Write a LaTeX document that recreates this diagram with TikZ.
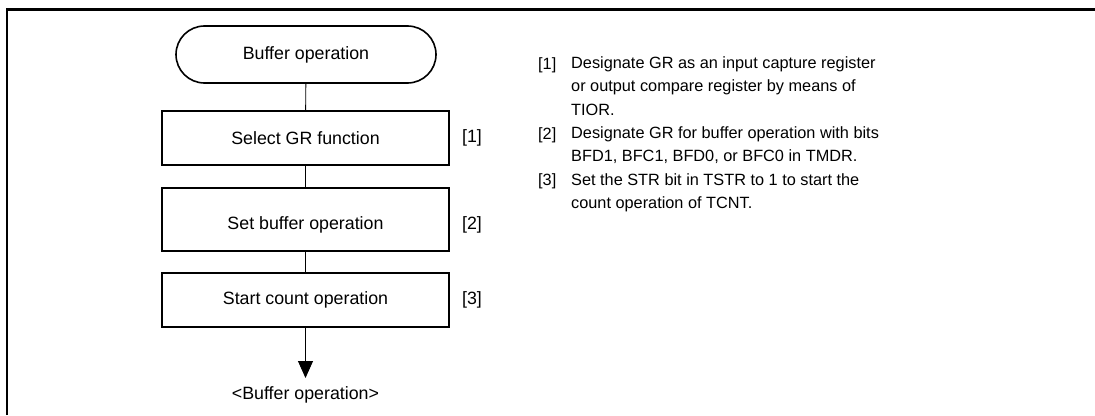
\documentclass[tikz,border=0pt]{standalone}
\usepackage{fontspec}
\setmainfont{Liberation Sans}
\usetikzlibrary{shapes.misc,arrows.meta}
\begin{document}
\begin{tikzpicture}[x=1pt,y=-1pt,
  every node/.style={font=\fontsize{17.8}{22}\selectfont, inner sep=0pt},
  term/.style={draw, line width=1.6pt, rounded rectangle, minimum width=260pt, minimum height=57pt},
  proc/.style={draw, line width=1.6pt, rectangle, minimum width=287pt},
  conn/.style={line width=0.9pt},
  note/.style={font=\fontsize{16.3}{23.3}\selectfont, anchor=base west, align=left}]
\useasboundingbox (0,0) rectangle (1095,415);
\draw[line width=2.2pt] (7,415) -- (7,9.5) -- (1095,9.5);
\node[term] (t) at (306,54.5) {Buffer operation};
\node[proc, minimum height=54pt] (b1) at (305.5,138) {Select GR function};
\node[proc, minimum height=63pt] (b2) at (305.5,219.5) {};
\node (b2t) at (305.5,225) {Set buffer operation};
\node[proc, minimum height=54pt] (b3) at (305.5,300) {Start count operation};
\coordinate (e) at (305.5,378);
\node[anchor=center] (end) at (305.5,395) {<Buffer operation>};
\draw[conn] (t) -- (b1);
\draw[conn] (b1) -- (b2);
\draw[conn] (b2) -- (b3);
\draw[conn, -{Triangle[length=17pt,width=15pt]}] (b3) -- (e);
\node (l1) at (472,138) {[1]};
\node (l2) at (472,225) {[2]};
\node (l3) at (472,300) {[3]};
\node[note] (n1) at (538,69) {[1]};
\node[note, anchor=north west] (t1) at (571,56.5) {Designate GR as an input capture register\\or output compare register by means of\\TIOR.};
\node[note] (n2) at (538,139) {[2]};
\node[note, anchor=north west] (t2) at (571,126.5) {Designate GR for buffer operation with bits\\BFD1, BFC1, BFD0, or BFC0 in TMDR.};
\node[note] (n3) at (538,185.5) {[3]};
\node[note, anchor=north west] (t3) at (571,173) {Set the STR bit in TSTR to 1 to start the\\count operation of TCNT.};
\end{tikzpicture}
\end{document}
